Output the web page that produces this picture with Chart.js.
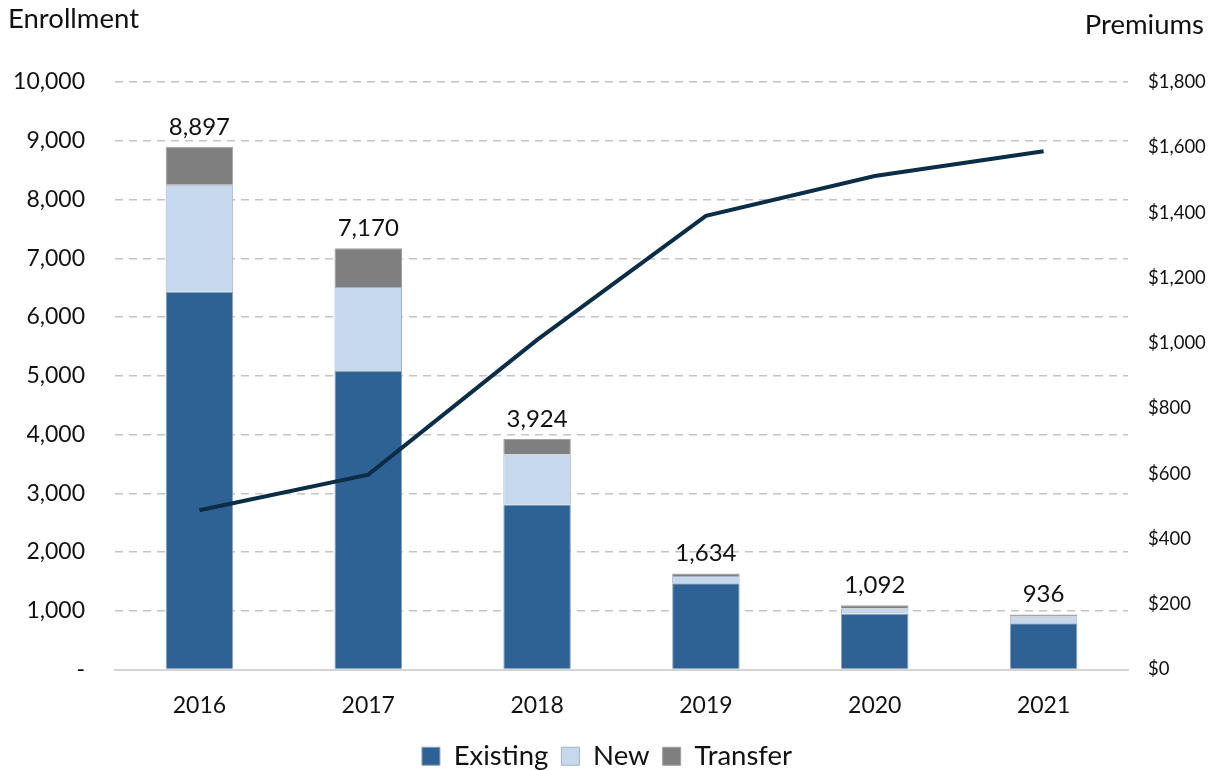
<!DOCTYPE html>
<html>
<head>
<meta charset="utf-8">
<title>Enrollment and Premiums</title>
<script src="https://cdn.jsdelivr.net/npm/chart.js@4.4.1/dist/chart.umd.min.js"></script>
<style>
  html, body { margin: 0; padding: 0; background: #fff; }
  #wrap { width: 1214px; height: 770px; position: relative; }
</style>
</head>
<body>
<div id="wrap"><canvas id="chart" width="1214" height="770"></canvas></div>
<script>
// enrollment by type, plus average premium on the right axis
const years     = ['2016', '2017', '2018', '2019', '2020', '2021'];
const existing  = [6430, 5080, 2808, 1470, 948, 788];
const newEnroll = [1822, 1430, 850, 120, 92, 115];
const transfer  = [645, 660, 266, 44, 52, 33];
const premiums  = [488, 597, 1010, 1390, 1512, 1588];

const FONT = 'Lato, "Open Sans", sans-serif';
const fmt = v => v.toLocaleString('en-US');

// totals printed above each stacked bar (top segment = Transfer)
const totalsPlugin = {
  id: 'totals',
  afterDatasetsDraw(chart) {
    const { ctx } = chart;
    const top = chart.getDatasetMeta(3);
    ctx.save();
    ctx.font = '24px ' + FONT;
    ctx.fillStyle = '#111';
    ctx.textAlign = 'center';
    ctx.textBaseline = 'bottom';
    years.forEach((y, i) => {
      const bar = top.data[i];
      const total = existing[i] + newEnroll[i] + transfer[i];
      ctx.fillText(fmt(total), bar.x, bar.y - 8);
    });
    ctx.restore();
  }
};

// axis captions in the top corners
const captionsPlugin = {
  id: 'captions',
  afterDraw(chart) {
    const { ctx } = chart;
    ctx.save();
    ctx.font = '27.5px ' + FONT;
    ctx.fillStyle = '#111';
    ctx.textBaseline = 'alphabetic';
    ctx.textAlign = 'left';
    ctx.fillText('Enrollment', 8, 28);
    ctx.textAlign = 'right';
    ctx.fillText('Premiums', 1204, 34);
    ctx.restore();
  }
};

new Chart(document.getElementById('chart'), {
  data: {
    labels: years,
    datasets: [
      {
        type: 'line', label: 'Premiums', data: premiums, yAxisID: 'y1',
        borderColor: '#0b2d45', borderWidth: 4, pointRadius: 0, tension: 0, order: 0
      },
      {
        type: 'bar', label: 'Existing', data: existing, yAxisID: 'y', stack: 's',
        backgroundColor: '#2f6294', borderColor: '#8fa3b8', borderWidth: 1, order: 1
      },
      {
        type: 'bar', label: 'New', data: newEnroll, yAxisID: 'y', stack: 's',
        backgroundColor: '#c6d9ec', borderColor: '#a4b2c2', borderWidth: 1, order: 1
      },
      {
        type: 'bar', label: 'Transfer', data: transfer, yAxisID: 'y', stack: 's',
        backgroundColor: '#7f7f7f', borderColor: '#a0a0a0', borderWidth: 1, order: 1
      }
    ]
  },
  options: {
    responsive: false,
    animation: false,
    layout: { padding: { top: 82, bottom: -10, left: 0, right: 0 } },
    datasets: { bar: { barPercentage: 0.4, categoryPercentage: 1 } },
    scales: {
      x: {
        stacked: true,
        grid: { display: false, drawTicks: false },
        border: { display: true, color: '#d4d4d4', width: 2 },
        ticks: { color: '#111', font: { family: FONT, size: 23 }, padding: 22 },
        afterFit(scale) { scale.height = 60; }
      },
      y: {
        stacked: true, position: 'left', min: 0, max: 10000,
        grid: {
          drawTicks: false, lineWidth: 1.5,
          color: c => c.tick.value === 0 ? 'rgba(0,0,0,0)' : '#c4c4c4'
        },
        border: { display: false, dash: [8, 6] },
        ticks: {
          stepSize: 1000, padding: 30, color: '#111',
          font: { family: FONT, size: 23 },
          callback: v => v === 0 ? '-' : fmt(v)
        },
        afterFit(scale) { scale.width = 115; }
      },
      y1: {
        position: 'right', min: 0, max: 1800,
        grid: { drawOnChartArea: false, drawTicks: false },
        border: { display: false },
        ticks: {
          stepSize: 200, padding: 20, color: '#111',
          font: { family: FONT, size: 18.5 },
          callback: v => '$' + fmt(v)
        },
        afterFit(scale) { scale.width = 86; }
      }
    },
    plugins: {
      legend: {
        position: 'bottom',
        labels: {
          filter: item => item.text !== 'Premiums',
          boxWidth: 18, boxHeight: 18, padding: 13,
          color: '#111', font: { family: FONT, size: 27.5 }
        }
      },
      tooltip: { enabled: false }
    }
  },
  plugins: [totalsPlugin, captionsPlugin]
});
</script>
</body>
</html>
